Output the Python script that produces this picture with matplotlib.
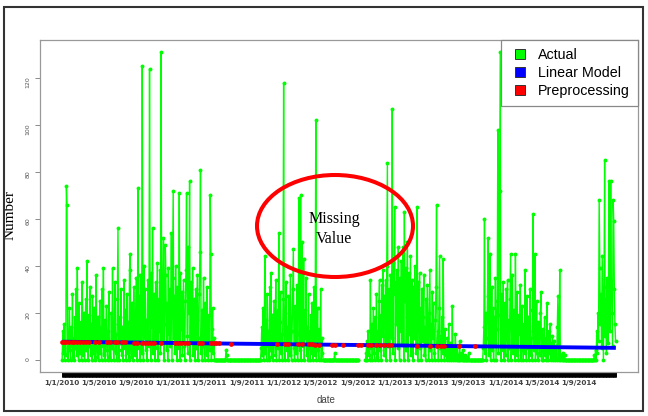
import numpy as np
import pandas as pd
import matplotlib
matplotlib.use("Agg")
import matplotlib.pyplot as plt
import matplotlib.dates as mdates
from matplotlib.patches import Ellipse, Rectangle
from matplotlib.lines import Line2D
from matplotlib.ticker import FixedLocator, FixedFormatter

# ---------------- data ----------------
series_start = "2010-01-01"
series_end = "2014-12-31"

period_a_start = "2010-01-01"
period_a = [0, 12, 3, 15, 0, 8, 2, 74, 66, 5, 0, 10, 22, 4, 0, 14, 6, 28, 1, 9,
            0, 18, 5, 30, 2, 39, 7, 0, 24, 11, 3, 16, 0, 33, 8, 2, 20, 0, 12, 26,
            4, 42, 10, 0, 19, 6, 31, 2, 15, 0, 27, 9, 3, 22, 0, 13, 36, 5, 1, 18,
            0, 8, 25, 3, 14, 0, 30, 6, 39, 2, 17, 0, 10, 23, 4, 0, 12, 29, 1, 7,
            0, 20, 5, 39, 9, 0, 15, 33, 3, 11, 0, 26, 56, 4, 0, 18, 7, 30, 2, 14,
            0, 9, 34, 5, 21, 0, 12, 28, 3, 16, 0, 38, 45, 6, 1, 24, 10, 0, 31, 8,
            2, 19, 35, 0, 13, 73, 5, 27, 0, 36, 11, 3, 125, 22, 0, 40, 9, 30, 4, 17,
            0, 34, 12, 6, 124, 25, 0, 37, 14, 56, 3, 28, 9, 0, 33, 18, 5, 41, 0, 26,
            12, 38, 3, 131, 20, 7, 32, 52, 0, 15, 49, 36, 4, 24, 0, 39, 11, 30, 6, 19,
            54, 0, 35, 72, 9, 27, 3, 40, 16, 0, 31, 22, 5, 71, 0, 37, 13, 29, 2, 18,
            34, 6, 0, 25, 38, 71, 10, 3, 48, 20, 76, 0, 33, 14, 7, 39, 2, 26, 11, 0,
            30, 5, 17, 36, 0, 9, 28, 46, 81, 3, 21, 0, 12, 35, 6, 0, 24, 15, 2, 31,
            8, 0, 19, 4, 70, 45, 0, 13, 22, 3, 9, 0]

period_b_start = "2011-10-17"
period_b = [0, 5, 14, 2, 22, 0, 9, 44, 3, 17, 0, 28, 6, 12, 0, 31, 4, 37, 1, 19,
            8, 0, 25, 13, 2, 34, 0, 10, 21, 5, 54, 0, 16, 29, 3, 11, 0, 26, 118, 7,
            0, 20, 33, 4, 14, 0, 27, 9, 2, 36, 18, 0, 12, 30, 47, 5, 0, 23, 15, 3,
            32, 0, 11, 69, 26, 4, 70, 0, 50, 17, 6, 43, 0, 21, 9, 35, 2, 14, 0, 28,
            5, 12, 0, 19, 3, 24, 0, 8, 31, 2, 15, 102, 0, 10, 22, 4, 0, 13, 6, 30,
            0, 9, 3, 0]

period_c_start = "2012-09-27"
period_c = [0, 3, 8, 0, 12, 2, 6, 0, 34, 5, 15, 0, 9, 22, 3, 0, 18, 7, 28, 1,
            12, 0, 25, 34, 4, 19, 0, 32, 10, 38, 2, 27, 14, 34, 0, 40, 84, 6, 30, 17,
            0, 36, 23, 9, 107, 3, 41, 28, 65, 0, 33, 15, 38, 5, 48, 21, 0, 35, 12, 42,
            7, 30, 48, 0, 63, 25, 39, 4, 18, 50, 0, 37, 11, 29, 44, 2, 24, 34, 0, 31,
            9, 40, 16, 3, 27, 65, 0, 33, 12, 37, 5, 22, 0, 30, 8, 18, 36, 2, 14, 0,
            26, 7, 32, 11, 0, 20, 38, 4, 15, 0, 29, 9, 24, 3, 0, 17, 31, 66, 6, 12,
            0, 22, 44, 5, 10, 0, 18, 3, 43, 8, 0, 13, 2, 6, 0, 9, 1, 15, 0, 4,
            7, 0, 2, 23, 0, 5, 1, 0, 11, 3, 0, 6, 0, 2, 0, 8, 0, 1, 3, 0,
            0, 4, 0, 0, 2, 0, 0, 1, 0, 0, 3, 0, 0, 0, 0]

period_d_start = "2013-10-18"
period_d = [0, 5, 14, 60, 3, 20, 0, 9, 27, 52, 2, 16, 45, 0, 11, 31, 4, 22, 0, 18,
            7, 35, 0, 13, 25, 98, 3, 19, 72, 131, 0, 28, 10, 4, 33, 0, 15, 24, 2, 30,
            8, 34, 0, 17, 5, 26, 45, 0, 12, 36, 3, 21, 9, 0, 45, 14, 2, 29, 6, 0,
            19, 11, 32, 0, 4, 23, 8, 0, 15, 3, 38, 10, 0, 27, 5, 18, 0, 12, 30, 2,
            9, 0, 21, 62, 4, 14, 45, 0, 7, 25, 3, 0, 16, 10, 2, 20, 29, 0, 6, 13,
            0, 4, 18, 2, 9, 0, 24, 5, 0, 12, 3, 15, 0, 7, 1, 10, 0, 4, 8, 0,
            2, 6, 0, 14, 27, 0, 3, 38, 0, 2, 0, 1, 3, 0, 0, 2]

period_e_start = "2014-10-19"
period_e = [0, 2, 0, 4, 0, 12, 3, 20, 8, 68, 39, 15, 28, 5, 44, 22, 0, 31, 85, 10,
            26, 3, 35, 18, 7, 76, 24, 12, 76, 34, 20, 6, 68, 59, 30, 15, 8]

stray_dates = ["2011-06-25", "2011-06-27", "2012-06-17"]
stray_values = [4, 2, 3]

missing_start = "2012-09-05"
missing_end = "2012-09-23"

lm_dates = ["2010-01-01", "2014-12-31"]
lm_values = [7.6, 5.0]

pre_dates = ["2010-01-01", "2010-01-08", "2010-01-14", "2010-01-24", "2010-02-03",
             "2010-02-10", "2010-02-20", "2010-03-01", "2010-03-11", "2010-03-21",
             "2010-03-31", "2010-04-20", "2010-05-03", "2010-05-30", "2010-06-08",
             "2010-06-25", "2010-07-02", "2010-07-18", "2010-07-28", "2010-08-27",
             "2010-09-06", "2010-09-22", "2010-10-02", "2010-10-12", "2010-10-22",
             "2010-11-01", "2010-11-24", "2011-01-09", "2011-01-19", "2011-01-29",
             "2011-02-11", "2011-02-21", "2011-03-29", "2011-04-08", "2011-05-05",
             "2011-05-15", "2011-05-24", "2011-06-03", "2011-07-13", "2011-12-09",
             "2012-01-07", "2012-01-17", "2012-02-19", "2012-02-29", "2012-03-23",
             "2012-04-05", "2012-04-15", "2012-04-25", "2012-06-07", "2012-06-17",
             "2012-07-14", "2012-09-01", "2012-09-11", "2012-10-04", "2012-10-14",
             "2012-10-31", "2012-11-13", "2012-11-26", "2012-12-09", "2012-12-19",
             "2013-03-15", "2013-04-27", "2013-05-20", "2013-06-02", "2013-06-12",
             "2013-08-01", "2013-09-22"]
pre_values = [7.6, 7.6, 7.6, 7.6, 7.55, 7.54, 7.53, 7.52, 7.5, 7.49,
              7.47, 7.45, 7.43, 7.39, 7.38, 7.35, 7.34, 7.32, 7.3, 7.26,
              7.25, 7.22, 7.21, 7.2, 7.18, 7.17, 7.13, 7.07, 7.05, 7.04,
              7.02, 7.0, 6.96, 6.94, 6.9, 6.89, 6.88, 6.86, 6.81, 6.59,
              6.55, 6.54, 6.49, 6.48, 6.44, 6.43, 6.41, 6.4, 6.34, 6.32,
              6.28, 6.21, 6.2, 6.17, 6.15, 6.13, 6.11, 6.09, 6.07, 6.06,
              5.94, 5.87, 5.84, 5.82, 5.81, 5.74, 5.66]

tick_dates = ["2010-01-01", "2010-05-01", "2010-09-01", "2011-01-01", "2011-05-01",
              "2011-09-01", "2012-01-01", "2012-05-01", "2012-09-01", "2013-01-01",
              "2013-05-01", "2013-09-01", "2014-01-01", "2014-05-01", "2014-09-01"]
tick_labels = ["1/1/2010", "1/5/2010", "1/9/2010", "1/1/2011", "1/5/2011",
               "1/9/2011", "1/1/2012", "1/5/2012", "1/9/2012", "1/1/2013",
               "1/5/2013", "1/9/2013", "1/1/2014", "1/5/2014", "1/9/2014"]
y_ticks = [0, 20, 40, 60, 80, 100, 120]

# ---------------- build series ----------------
t0 = pd.Timestamp(series_start)
dates = pd.date_range(series_start, series_end, freq="2D")
actual = np.zeros(len(dates))
for ps, vals in [(period_a_start, period_a), (period_b_start, period_b),
                 (period_c_start, period_c), (period_d_start, period_d),
                 (period_e_start, period_e)]:
    i0 = (pd.Timestamp(ps) - t0).days // 2
    actual[i0:i0 + len(vals)] = vals
for d, v in zip(stray_dates, stray_values):
    actual[(pd.Timestamp(d) - t0).days // 2] = v
m0 = (pd.Timestamp(missing_start) - t0).days // 2
m1 = (pd.Timestamp(missing_end) - t0).days // 2
actual[m0:m1 + 1] = np.nan

# ---------------- figure ----------------
fig = plt.figure(figsize=(6.48, 4.16), dpi=100)
fig.patches.append(Rectangle((4 / 648, 1 - 411 / 416), 639 / 648, 404 / 416,
                             transform=fig.transFigure, fill=False,
                             edgecolor="#333333", linewidth=1.5))
ax = fig.add_axes([40 / 648, 1 - 372 / 416, 598 / 648, 332 / 416])

green = "#00FF00"
ax.plot(dates, actual, color=green, linewidth=1.0, marker="o", markersize=2.8,
        markeredgewidth=0, zorder=2)
ax.plot(pd.to_datetime(lm_dates), lm_values, color="#0000FF", linewidth=2.8,
        solid_capstyle="butt", zorder=3)
ax.plot(pd.to_datetime(pre_dates), pre_values, linestyle="none", marker="o",
        markersize=3.4, color="#FF0000", markeredgewidth=0, zorder=4)

span = pd.Timestamp(series_end) - t0
ax.set_xlim(t0 - span * 0.04, pd.Timestamp(series_end) + span * 0.04)
ax.set_ylim(-5.3, 136.3)

# x axis: daily ticks form the black band
daily = mdates.date2num(pd.date_range(series_start, series_end, freq="D"))
ax.xaxis.set_minor_locator(FixedLocator(daily))
ax.xaxis.set_major_locator(FixedLocator(mdates.date2num(pd.to_datetime(tick_dates))))
ax.xaxis.set_major_formatter(FixedFormatter(tick_labels))
ax.tick_params(axis="x", which="both", length=3.6, width=0.6, color="black", pad=2.0)
ax.tick_params(axis="x", which="major", labelsize=5.2, labelcolor="#444444")
for lab in ax.get_xticklabels():
    lab.set_fontweight("bold")

ax.set_yticks(y_ticks)
ax.tick_params(axis="y", length=3.6, width=0.6, color="#777777", pad=3,
               labelsize=4.5, labelcolor="#555555", labelrotation=90)

for s in ax.spines.values():
    s.set_color("#999999")
    s.set_linewidth(0.9)

ax.set_xlabel("date", fontsize=7, color="#444444", family="Liberation Sans")
ax.xaxis.set_label_coords((326 - 40) / 598, (372 - 400) / 332)
ax.xaxis.label.set_va("center")
ax.set_ylabel("Number", fontsize=11, family="Liberation Serif", color="black")
ax.yaxis.set_label_coords((10 - 40) / 598, (372 - 215) / 332)
ax.yaxis.label.set_va("center")

# annotation
ax.add_patch(Ellipse(((335 - 40) / 598, (372 - 226) / 332), 156 / 598, 102 / 332,
                     transform=ax.transAxes, fill=False, edgecolor="#FF0000",
                     linewidth=2.9, zorder=6))
ax.text((334 - 40) / 598, (372 - 229) / 332, "Missing\nValue", transform=ax.transAxes,
        ha="center", va="center", fontsize=11.5, family="Liberation Serif",
        linespacing=1.4, zorder=7)

handles = [Line2D([], [], linestyle="none", marker="s", markersize=7,
                  markerfacecolor=c, markeredgecolor="#333333", markeredgewidth=0.7)
           for c in ["#00FF00", "#0000FF", "#FF0000"]]
leg = ax.legend(handles, ["Actual", "Linear Model", "Preprocessing"],
                loc="upper right", borderaxespad=0, fancybox=False, framealpha=1,
                edgecolor="#888888", prop={"family": "Liberation Sans", "size": 10.3},
                handlelength=1.6, handletextpad=0.45, borderpad=0.55,
                labelspacing=0.3)
leg.get_frame().set_linewidth(0.9)
leg.set_zorder(10)

fig.savefig("out.png", dpi=100)
